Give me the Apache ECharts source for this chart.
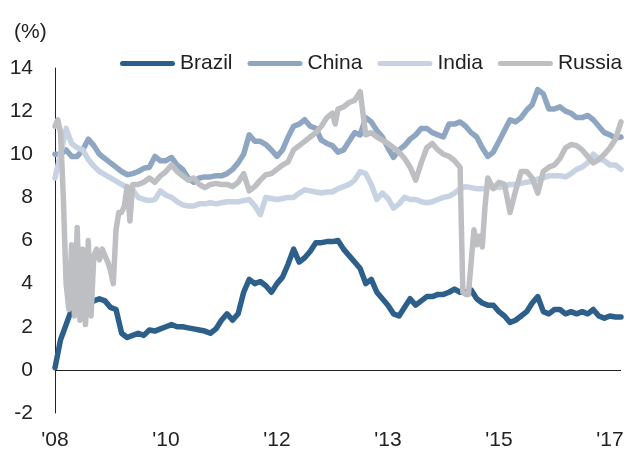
<!DOCTYPE html>
<html>
<head>
<meta charset="utf-8">
<script src="https://cdn.jsdelivr.net/npm/echarts@6/dist/echarts.min.js"></script>
<style>
  html, body { margin: 0; padding: 0; background: #fff; }
  #main { width: 635px; height: 454px; }
</style>
</head>
<body>
<div id="main"></div>
<script>
// x is a period index (0..102), labels every 20 periods
const xTickLabels = ["'08", "'10", "'12", "'13", "'15", "'17"];
const seriesNames = ['Brazil', 'China', 'India', 'Russia'];

const brazil = [
  0.1, 1.4, 2.1, 2.8, 3.0, 3.1, 3.0, 3.2, 3.3, 3.2,
  2.9, 2.8, 1.7, 1.5, 1.6, 1.7, 1.6, 1.85, 1.8, 1.9,
  2.0, 2.1, 2.0, 2.0, 1.95, 1.9, 1.85, 1.8, 1.7, 1.9,
  2.3, 2.6, 2.3, 2.6, 3.6, 4.2, 4.0, 4.1, 3.9, 3.6,
  4.0, 4.3, 4.9, 5.6, 5.0, 5.2, 5.5, 5.9, 5.9, 5.95,
  5.95, 6.0, 5.6, 5.3, 5.0, 4.7, 4.0, 4.2, 3.6, 3.3,
  3.0, 2.6, 2.5, 2.9, 3.3, 3.0, 3.2, 3.4, 3.4, 3.5,
  3.5, 3.6, 3.75, 3.6, 3.6, 3.7, 3.3, 3.1, 3.0, 3.0,
  2.7, 2.5, 2.2, 2.3, 2.5, 2.7, 3.1, 3.4, 2.7, 2.6,
  2.8, 2.8, 2.6, 2.7, 2.6, 2.7, 2.6, 2.8, 2.5, 2.4,
  2.5, 2.45, 2.45
];

const china = [
  10.0, 10.0, 10.2, 9.9, 9.9, 10.2, 10.7, 10.4, 10.0, 9.8,
  9.6, 9.4, 9.2, 9.05, 9.1, 9.2, 9.35, 9.4, 9.9, 9.7,
  9.7, 9.85, 9.5, 9.3, 8.9, 8.7, 8.9, 8.95, 8.95, 9.0,
  9.0, 9.1, 9.3, 9.6, 10.0, 10.9, 10.6, 10.6, 10.45, 10.2,
  9.9, 10.2, 10.8, 11.3, 11.4, 11.6, 11.3, 11.2, 10.65, 10.5,
  10.4, 10.1, 10.2, 10.6, 11.0, 10.9, 11.7, 11.5, 11.1, 10.8,
  10.3, 9.85, 10.2, 10.4, 10.7, 10.9, 11.2, 11.2, 11.0, 10.9,
  10.8, 11.4, 11.4, 11.5, 11.3, 11.0, 10.8, 10.3, 9.9, 10.1,
  10.6, 11.1, 11.6, 11.5, 11.7, 12.05, 12.3, 13.0, 12.8, 12.1,
  12.1, 12.2, 12.0, 11.9, 11.7, 11.7, 11.8, 11.6, 11.3, 11.0,
  10.9, 10.75, 10.8
];

const india = [
  8.9, 10.0, 11.2, 10.5, 10.3, 10.2, 9.75, 9.45, 9.2, 9.05,
  8.9, 8.75, 8.6, 8.45, 8.35, 8.0, 7.9, 7.85, 7.9, 8.3,
  8.1, 8.0, 7.8, 7.65, 7.6, 7.6, 7.7, 7.7, 7.75, 7.7,
  7.75, 7.8, 7.8, 7.8, 7.85, 7.9, 7.6, 7.2, 8.0, 7.95,
  7.9, 7.95, 8.0, 8.0, 8.2, 8.35, 8.3, 8.25, 8.2, 8.25,
  8.25, 8.4, 8.5, 8.6, 8.8, 9.2, 9.1, 8.6, 7.9, 8.2,
  7.95, 7.5, 7.7, 8.0, 7.9, 7.9, 7.8, 7.75, 7.8, 7.9,
  8.0, 8.05, 8.2, 8.4, 8.5, 8.45, 8.4, 8.4, 8.45, 8.5,
  8.45, 8.5, 8.6, 8.6, 8.65, 8.7, 8.75, 8.85, 8.9, 9.0,
  9.0, 9.0, 8.95, 9.1, 9.3, 9.4, 9.6, 10.0, 9.8, 9.7,
  9.5, 9.5, 9.3
];

// Russia is spikier, so it has half-period points in the jumpy stretches
const russiaT = [
  0, 0.5, 1, 1.5, 2, 2.5, 3, 3.5, 4, 4.5, 5, 5.5, 6, 6.5, 7, 7.5, 8, 8.5, 9, 9.5,
  10, 10.5, 11, 11.5, 12, 12.5, 13, 13.5, 14,
  15, 16, 17, 18, 19, 20, 21, 22, 23, 24, 25, 26, 27, 28, 29, 30, 31, 32, 33, 34,
  35, 36, 37, 38, 39, 40, 41, 42, 43, 44, 45, 46, 47, 48, 49, 50, 50.5,
  51, 52, 53, 54, 55, 56, 57, 58, 59, 60, 61, 62, 63, 64, 65, 66, 67, 68, 69,
  70, 71, 72, 73, 73.5, 74, 74.5, 75, 75.5, 76, 76.5, 77, 77.5,
  78, 79, 80, 81, 82, 83, 84, 85, 86, 87, 88, 89, 90, 91, 92, 93, 94, 95, 96, 97,
  98, 99, 100, 101, 102
];
const russiaV = [
  11.3, 11.6, 11.0, 8.0, 4.0, 2.8, 5.8, 2.5, 6.6, 2.3, 5.6, 2.1, 6.0, 2.5, 5.3, 5.6, 5.1, 5.6, 5.3, 5.0,
  4.6, 4.0, 6.5, 7.3, 7.3, 7.6, 8.5, 6.9, 8.6,
  8.6, 8.7, 8.9, 8.7, 9.0, 9.2, 9.5, 9.2, 9.0, 8.8, 8.9, 8.6, 8.45, 8.6, 8.65, 8.6, 8.6, 8.5, 8.7, 9.1,
  8.3, 8.5, 8.8, 9.05, 9.1, 9.3, 9.5, 9.65, 10.2, 10.4, 10.6, 10.8, 11.0, 11.3, 11.7, 11.9, 11.4,
  12.1, 12.2, 12.4, 12.5, 12.9, 10.9, 11.0, 10.8, 10.65, 10.5, 10.3, 10.1, 9.8, 9.4, 8.8, 9.6, 10.3, 10.5, 10.2,
  10.0, 9.9, 9.7, 9.4, 3.6, 3.5, 3.5, 5.0, 6.5, 5.8, 6.2, 5.7, 7.6,
  8.9, 8.4, 8.7, 8.6, 7.3, 8.3, 9.2, 9.2, 8.9, 8.2, 9.2, 9.4, 9.5, 9.8, 10.3, 10.45, 10.4, 10.2, 9.9, 9.6,
  9.75, 10.0, 10.3, 10.7, 11.5
];

const colors = ['#2d5f8b', '#8fa6c3', '#c7d2e3', '#bebfc2'];
const font = '"Liberation Sans", Arial, sans-serif';

const toPairs = arr => arr.map((v, i) => [i, v]);

function lineSeries(name, data, color) {
  return {
    name: name,
    type: 'line',
    data: data,
    symbol: 'none',
    color: color,
    lineStyle: { color: color, width: 5.5, cap: 'round', join: 'round' },
    emphasis: { disabled: true }
  };
}

const series = [
  lineSeries('Brazil', toPairs(brazil), colors[0]),
  lineSeries('China', toPairs(china), colors[1]),
  lineSeries('India', toPairs(india), colors[2]),
  lineSeries('Russia', russiaT.map((t, i) => [t, russiaV[i]]), colors[3])
];
// zero line
series[0].markLine = {
  silent: true,
  symbol: 'none',
  label: { show: false },
  lineStyle: { color: '#222', width: 1, type: 'solid' },
  data: [{ yAxis: 0 }]
};

const chart = echarts.init(document.getElementById('main'));
chart.setOption({
  animation: false,
  backgroundColor: '#fff',
  textStyle: { fontFamily: font, color: '#222' },
  grid: { left: 55, right: 14, top: 68, bottom: 41, containLabel: false, outerBoundsMode: 'none' },
  legend: {
    data: seriesNames,
    left: 115,
    top: 48,
    itemWidth: 55,
    itemHeight: 6,
    itemGap: 15,
    icon: 'path://M5,0 L105,0 A5,5 0 0 1 105,10 L5,10 A5,5 0 0 1 5,0 Z',
    textStyle: { fontSize: 21, color: '#222', fontFamily: font },
    selectedMode: false
  },
  graphic: [{
    type: 'text',
    left: 14,
    top: 22,
    style: { text: '(%)', font: '21px ' + font, fill: '#222' }
  }],
  xAxis: {
    type: 'value',
    min: 0,
    max: 102,
    interval: 20,
    axisLine: { show: false, onZero: false },
    axisTick: { show: false },
    splitLine: { show: false },
    axisLabel: {
      margin: 17,
      fontSize: 21,
      color: '#222',
      showMaxLabel: false,
      formatter: v => (v % 20 === 0 ? (xTickLabels[v / 20] || '') : '')
    }
  },
  yAxis: {
    type: 'value',
    min: -2,
    max: 14,
    interval: 2,
    axisLine: { show: true, lineStyle: { color: '#222', width: 1 } },
    axisTick: { show: false },
    splitLine: { show: false },
    axisLabel: { margin: 22, fontSize: 21, color: '#222' }
  },
  series: series
});
</script>
</body>
</html>
